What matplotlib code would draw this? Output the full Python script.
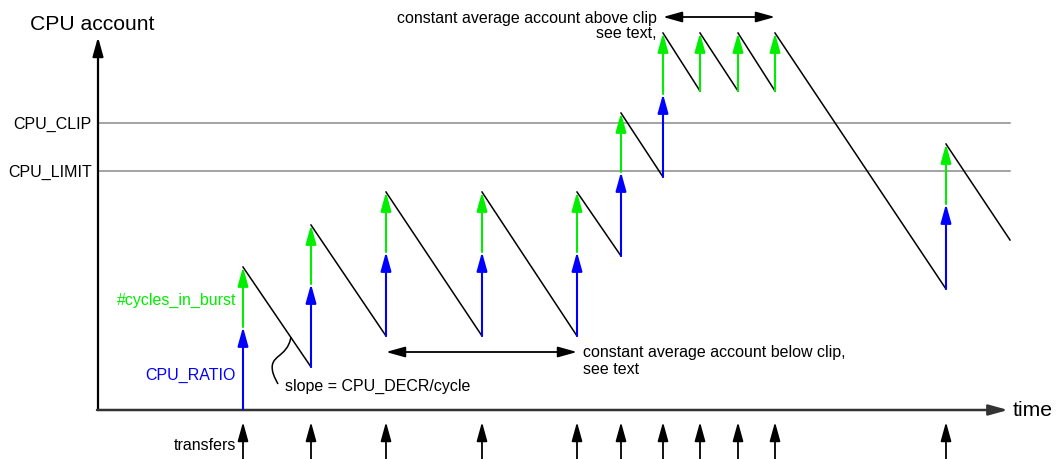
import matplotlib
matplotlib.use("Agg")
import matplotlib.pyplot as plt
from matplotlib.patches import PathPatch
from matplotlib.path import Path

plt.rcParams['font.family'] = ['Liberation Sans', 'DejaVu Sans']

# transfer times (time axis) and account levels
transfer_t = [243, 311, 386, 482, 577, 621, 663, 700, 738, 775, 946]
acc_before = [0, 42, 73, 73, 73, 153, 232, 318, 318, 318, 120]
ratio_add = [82, 83, 84, 84, 84, 84, 83, 0, 0, 0, 85]
burst_add = [60, 59, 60, 60, 60, 59, 61, 58, 58, 58, 60]
end_t = 1010
end_acc = 169

cpu_clip = 286
cpu_limit = 238

GREEN = '#00ee00'
BLUE = '#0000ff'
FS = 11.5


def arrow(ax, x0, y0, x1, y1, color, lw=1.5, both=False):
    style = '<|-|>' if both else '-|>'
    ax.annotate('', xy=(x1, y1), xytext=(x0, y0),
                arrowprops=dict(arrowstyle=style + ',head_length=1.15,head_width=0.32',
                                color=color, lw=lw, shrinkA=0, shrinkB=0,
                                mutation_scale=10))


fig = plt.figure(figsize=(10.57, 4.60), dpi=100)
ax = fig.add_axes([0, 0, 1, 1])
ax.set_xlim(0, 1057)
ax.set_ylim(-50, 410)
ax.axis('off')

# grey reference levels
ax.plot([98, 1010], [cpu_clip, cpu_clip], color='#8a8a8a', lw=1.1)
ax.plot([98, 1010], [cpu_limit, cpu_limit], color='#8a8a8a', lw=1.1)
ax.text(92, cpu_clip, 'CPU_CLIP', ha='right', va='center', fontsize=FS)
ax.text(92, cpu_limit, 'CPU_LIMIT', ha='right', va='center', fontsize=FS)

# axes
arrow(ax, 98, -1, 98, 372, 'black', lw=1.6)
arrow(ax, 97, -1, 1008, -1, '#333333', lw=1.8)
ax.text(30, 386, 'CPU account', ha='left', va='center', fontsize=15.2)
ax.text(1013, -1, 'time', ha='left', va='center', fontsize=15.2)

# sawtooth account
for i, t in enumerate(transfer_t):
    lo = acc_before[i]
    mid = lo + ratio_add[i]
    hi = mid + burst_add[i]
    if ratio_add[i] > 0:
        arrow(ax, t, lo, t, mid, BLUE)
    arrow(ax, t, mid, t, hi, GREEN)
    if i + 1 < len(transfer_t):
        nt, na = transfer_t[i + 1], acc_before[i + 1]
    else:
        nt, na = end_t, end_acc
    ax.plot([t, nt], [hi, na], color='black', lw=1.1)
    # transfer markers under the time axis
    arrow(ax, t, -50, t, -13, 'black', lw=1.3)

ax.text(236, -36, 'transfers', ha='right', va='center', fontsize=FS)
ax.text(236, 110, '#cycles_in_burst', ha='right', va='center', fontsize=FS, color=GREEN)
ax.text(236, 35, 'CPU_RATIO', ha='right', va='center', fontsize=FS, color=BLUE)

# slope annotation with a curly leader
verts = [(291, 72), (287, 50), (268, 55), (273, 36), (275, 30), (277, 27), (278, 25)]
codes = [Path.MOVETO, Path.CURVE4, Path.CURVE4, Path.CURVE4, Path.CURVE4, Path.CURVE4, Path.CURVE4]
ax.add_patch(PathPatch(Path(verts, codes), fill=False, lw=1.1, color='black'))
ax.text(285, 24, 'slope = CPU_DECR/cycle', ha='left', va='center', fontsize=FS)

# constant average notes
arrow(ax, 386, 57, 577, 57, 'black', lw=1.3, both=True)
ax.text(583, 49, 'constant average account below clip,\nsee text', ha='left',
        va='center', fontsize=FS, linespacing=1.1)
arrow(ax, 663, 392, 775, 392, 'black', lw=1.3, both=True)
ax.text(657, 392, 'constant average account above clip', ha='right', va='center', fontsize=FS)
ax.text(657, 376, 'see text,', ha='right', va='center', fontsize=FS)

fig.savefig('out.png', dpi=100)
